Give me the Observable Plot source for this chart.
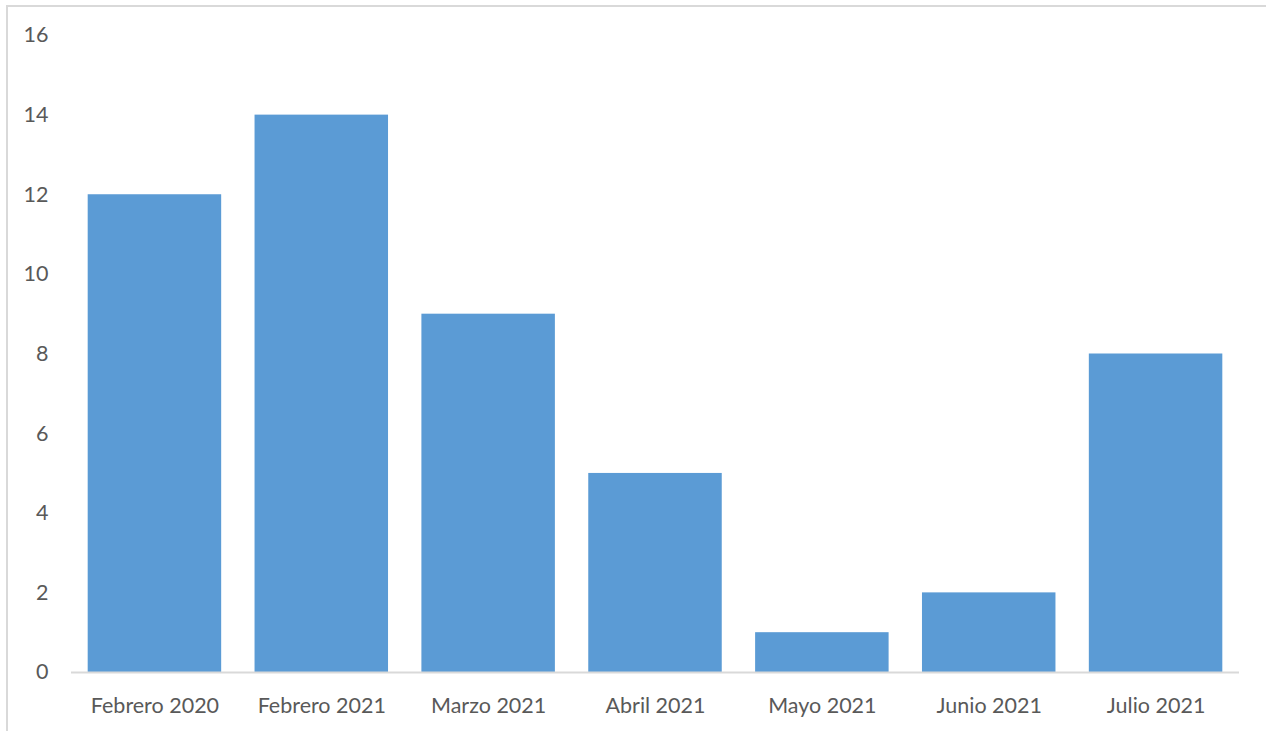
<!DOCTYPE html>
<html><head><meta charset="utf-8">
<script src="https://cdn.jsdelivr.net/npm/d3@7"></script>
<script src="https://cdn.jsdelivr.net/npm/@observablehq/plot@0.6"></script>
<style>
body{margin:0;background:#fff;}
#wrap{position:relative;width:1266px;height:731px;overflow:hidden;}
#border{position:absolute;left:6px;top:5px;width:1300px;height:800px;border-left:2px solid #d9d9d9;border-top:2px solid #d9d9d9;}
#chart{position:absolute;left:0;top:0;}
</style></head>
<body><div id="wrap"><div id="border"></div><div id="chart"></div></div>
<script>
const categories = ["Febrero 2020","Febrero 2021","Marzo 2021","Abril 2021","Mayo 2021","Junio 2021","Julio 2021"];
const values = [12,14,9,5,1,2,8];
const yTicks = [0,2,4,6,8,10,12,14,16];
const data = categories.map((c,i)=>({cat:c, v:values[i]}));
const chart = Plot.plot({
  width:1266, height:731,
  marginLeft:71, marginRight:27, marginTop:35, marginBottom:59,
  style:{fontFamily:"Lato, sans-serif", fontSize:"21.5px", color:"#595959", background:"transparent"},
  x:{domain:categories, paddingInner:0.2, paddingOuter:0.1, round:false, label:null, tickSize:0, tickPadding:25},
  y:{domain:[0,16], ticks:yTicks, label:null, tickSize:0, tickPadding:23},
  marks:[
    Plot.barY(data,{x:"cat", y:"v", fill:"#5B9BD5"}),
    Plot.ruleY([0],{stroke:"#d9d9d9", strokeWidth:2})
  ]
});
document.getElementById("chart").appendChild(chart);
</script></body></html>
